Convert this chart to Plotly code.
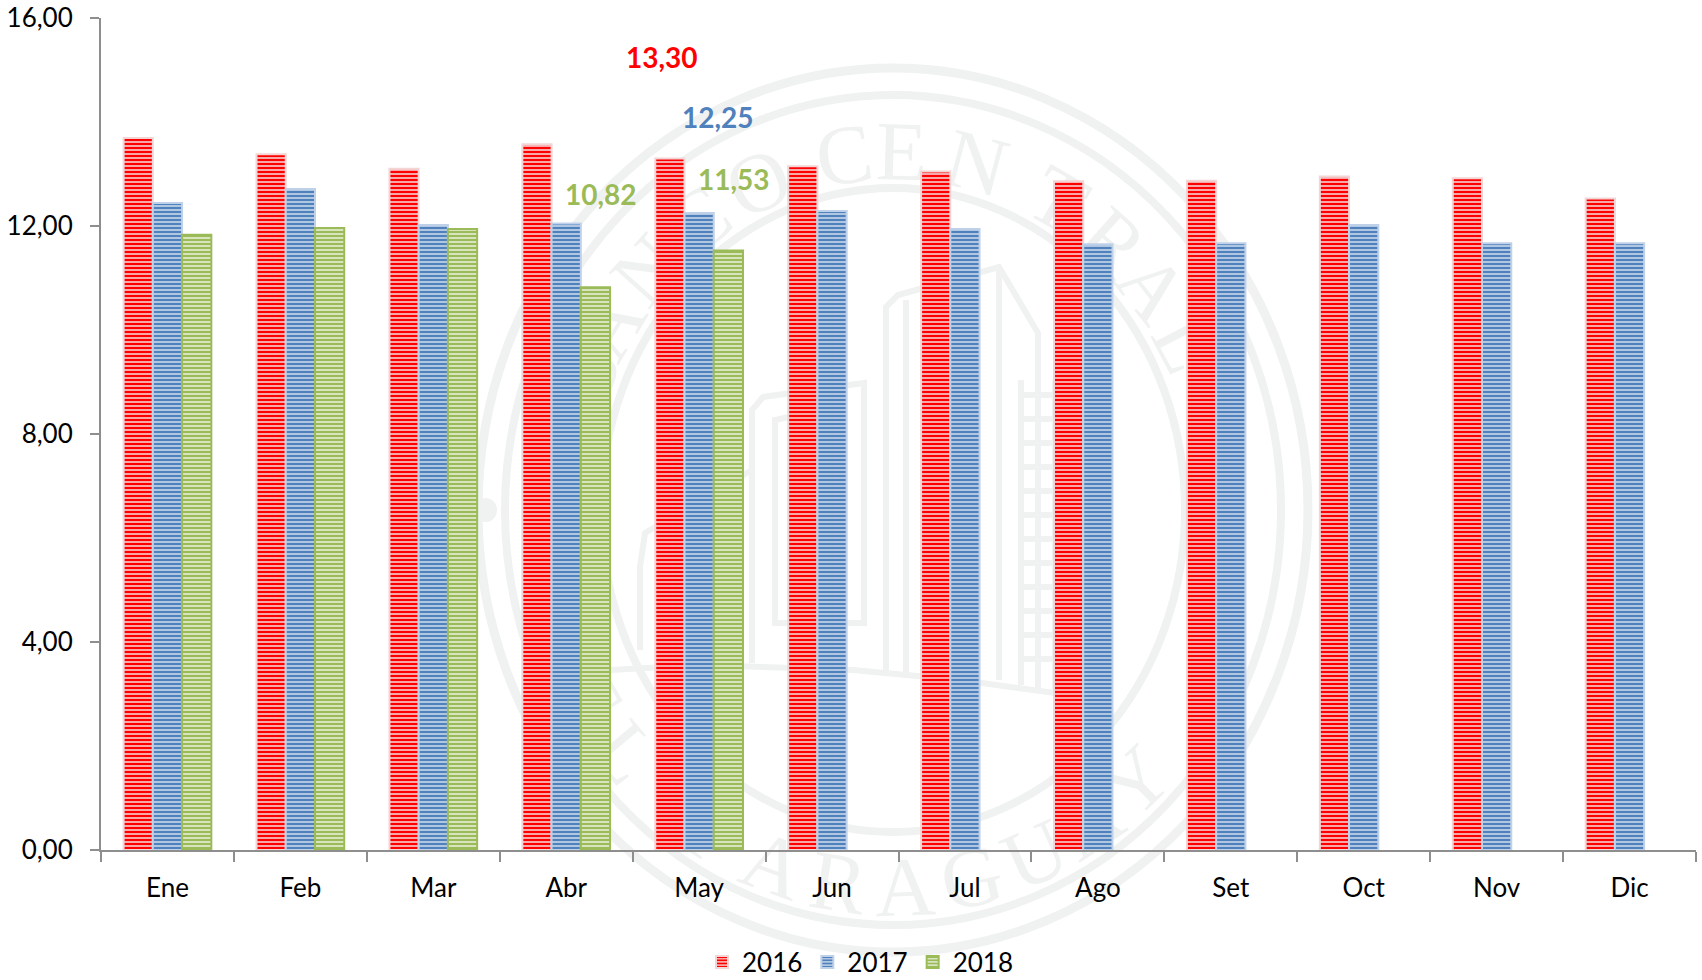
import math
import plotly.graph_objects as go

months = ["Ene", "Feb", "Mar", "Abr", "May", "Jun", "Jul", "Ago", "Set", "Oct", "Nov", "Dic"]
v2016 = [13.69, 13.38, 13.10, 13.57, 13.30, 13.15, 13.05, 12.86, 12.87, 12.95, 12.92, 12.53]
v2017 = [12.44, 12.71, 12.02, 12.05, 12.25, 12.29, 11.94, 11.65, 11.67, 12.02, 11.67, 11.67]
v2018 = [11.83, 11.96, 11.94, 10.82, 11.53, None, None, None, None, None, None, None]

W, H = 1702, 980
L, R, T, B = 101, 6, 18, 130
FONT = "Lato"
MARK = "#eff2f1"


def px(x):
    return (x - L) / (W - L - R)


def py(y):
    return 1 - (y - T) / (H - T - B)


fig = go.Figure()
styles = [
    ("2016", v2016, "#ff0000", "#f6d3d3", "#f4d5d5", 0.6),
    ("2017", v2017, "#4f81bd", "#c9d8ea", "#bfd1e8", 0.6),
    ("2018", v2018, "#9bbb59", "#d7e4bd", "#9bbb59", 0.5),
]
for name, vals, fg, bg, edge, sol in styles:
    fig.add_trace(go.Bar(
        name=name, x=months, y=vals,
        marker=dict(
            color=bg,
            line=dict(color=edge, width=2),
            pattern=dict(shape="-", size=4, solidity=sol, fgcolor=fg, bgcolor=bg, fillmode="replace"),
        ),
    ))

shapes = []
# Seal watermark behind the bars
CX, CY = 893, 510
for rx, ry, w in [(415, 442, 9), (388, 415, 8), (292, 322, 8)]:
    shapes.append(dict(type="circle", xref="paper", yref="paper", layer="below",
                       x0=px(CX - rx), x1=px(CX + rx), y0=py(CY + ry), y1=py(CY - ry),
                       line=dict(color=MARK, width=w)))
shapes.append(dict(type="circle", xref="paper", yref="paper", layer="below",
                   x0=px(475), x1=px(497), y0=py(522), y1=py(498),
                   fillcolor=MARK, line=dict(width=0)))

building = [
    [(886, 673), (886, 307), (898, 295), (999, 267), (1038, 333), (1038, 690)],
    [(906, 673), (906, 300)],
    [(999, 267), (999, 680)],
    [(1021, 380), (1021, 685)],
    [(1055, 380), (1055, 693)],
    [(752, 663), (752, 410), (763, 397), (864, 383), (864, 623), (775, 623), (775, 420), (845, 405)],
    [(640, 650), (640, 567), (645, 533), (752, 470)],
    [(611, 670), (700, 665), (853, 670), (960, 680), (1055, 693)],
]
for poly in building:
    d = "M" + "L".join(f"{px(x):.5f},{py(y):.5f}" for x, y in poly)
    shapes.append(dict(type="path", path=d, xref="paper", yref="paper", layer="below",
                       line=dict(color=MARK, width=6)))
for k in range(12):
    y = 395 + k * 24
    d = f"M{px(1021):.5f},{py(y):.5f}L{px(1055):.5f},{py(y):.5f}"
    shapes.append(dict(type="path", path=d, xref="paper", yref="paper", layer="below",
                       line=dict(color=MARK, width=6)))

TOP = list(zip("BANCOCENTRAL", [-68, -59, -48, -36, -24, -8.5, 1.5, 14.6, 30, 41.7, 51.7, 62.4]))
BOT = list(zip("DELPARAGUAY", [-70, -60, -50, -31, -20, -9, 2, 13, 24, 34, 44]))


def letter(ch, x, y, ang):
    return dict(type="rect", xref="paper", yref="paper", layer="below",
                x0=px(x - 1), x1=px(x + 1), y0=py(y + 1), y1=py(y - 1),
                line=dict(width=0), fillcolor="rgba(0,0,0,0)",
                label=dict(text=ch, textangle=ang, textposition="middle center",
                           font=dict(family="Liberation Serif", size=84, color=MARK)))


for ch, a in TOP:
    t = math.radians(a)
    shapes.append(letter(ch, CX + 340 * math.sin(t), CY - 368 * math.cos(t), a))
for ch, a in BOT:
    t = math.radians(a)
    shapes.append(letter(ch, CX + 340 * math.sin(t), CY + 368 * math.cos(t), -a))

labels = [
    (v2016[4], "#ff0000", 662, 57),
    (v2017[4], "#4f81bd", 718, 117),
    (v2018[4], "#9bbb59", 734, 179),
    (v2018[3], "#9bbb59", 601, 194),
]
annotations = [
    dict(text=f"{v:.2f}".replace(".", ","), xref="paper", yref="paper", x=px(x), y=py(y),
         xanchor="center", yanchor="middle", showarrow=False,
         font=dict(family=FONT, size=28, color=c, weight=700))
    for v, c, x, y in labels
]

axis_line = "#8e8e8e"
fig.update_layout(
    width=W, height=H,
    autosize=False,
    margin=dict(l=L, r=R, t=T, b=B, pad=0, autoexpand=False),
    paper_bgcolor="white",
    plot_bgcolor="rgba(0,0,0,0)",
    barmode="group",
    bargap=0.34,
    bargroupgap=0,
    separators=",.",
    font=dict(family=FONT, color="black", size=26),
    shapes=shapes,
    annotations=annotations,
    showlegend=True,
    legend=dict(orientation="h", xref="container", yref="container",
                x=860 / W, xanchor="center", y=1 - 962 / H, yanchor="middle",
                font=dict(family=FONT, size=26, color="black"),
                traceorder="normal", itemwidth=30, bgcolor="rgba(0,0,0,0)"),
    xaxis=dict(type="category", categoryorder="array", categoryarray=months,
               showline=True, linecolor=axis_line, linewidth=2,
               ticks="outside", ticklen=10, tickwidth=2, tickcolor=axis_line,
               tickson="boundaries", showgrid=False, ticklabelstandoff=14,
               tickfont=dict(family=FONT, size=26, color="black")),
    yaxis=dict(range=[0, 16], tickvals=[0, 4, 8, 12, 16], tickformat=".2f",
               showline=True, linecolor=axis_line, linewidth=2,
               ticks="outside", ticklen=9, tickwidth=2, tickcolor=axis_line,
               showgrid=False, zeroline=False, ticklabelstandoff=12,
               tickfont=dict(family=FONT, size=26, color="black")),
)

fig.write_html("out.html", config=dict(displayModeBar=False),
               post_script="document.body.style.margin='0';document.documentElement.style.overflow='hidden';")
